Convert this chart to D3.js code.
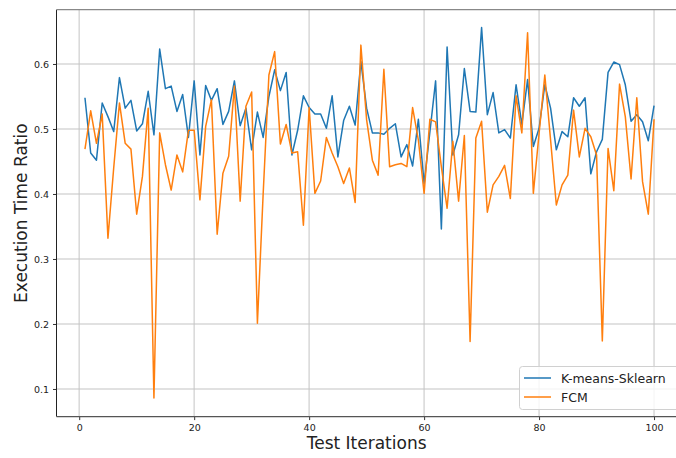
<!DOCTYPE html>
<html><head><meta charset="utf-8">
<script src="https://cdn.jsdelivr.net/npm/d3@7"></script>
<style>body{margin:0;background:#fff;}svg{display:block;font-family:"DejaVu Sans",sans-serif;}</style>
</head><body><svg id="c" width="676" height="458"></svg>
<script>
const iterations = d3.range(1, 101);
const kmeans = [0.548,0.463,0.452,0.540,0.519,0.496,0.579,0.532,0.544,0.497,
0.508,0.558,0.491,0.623,0.562,0.566,0.527,0.553,0.487,0.574,
0.460,0.567,0.544,0.562,0.507,0.527,0.574,0.505,0.532,0.468,
0.526,0.487,0.550,0.591,0.559,0.587,0.460,0.498,0.551,0.533,
0.523,0.523,0.501,0.551,0.457,0.513,0.535,0.506,0.604,0.532,
0.494,0.494,0.492,0.501,0.508,0.457,0.476,0.443,0.515,0.416,
0.495,0.574,0.346,0.626,0.460,0.491,0.593,0.527,0.526,0.656,
0.522,0.556,0.494,0.499,0.486,0.568,0.507,0.576,0.473,0.501,
0.568,0.532,0.468,0.496,0.488,0.548,0.535,0.548,0.431,0.465,
0.484,0.587,0.603,0.599,0.568,0.512,0.522,0.511,0.482,0.536];
const fcm = [0.469,0.528,0.478,0.523,0.332,0.440,0.540,0.478,0.469,0.369,
0.427,0.532,0.086,0.494,0.445,0.406,0.460,0.434,0.498,0.498,
0.391,0.504,0.545,0.338,0.432,0.458,0.566,0.389,0.535,0.557,
0.201,0.400,0.583,0.619,0.477,0.507,0.463,0.465,0.352,0.533,
0.401,0.420,0.487,0.463,0.442,0.416,0.440,0.387,0.629,0.514,
0.452,0.429,0.592,0.442,0.445,0.447,0.442,0.533,0.483,0.401,
0.515,0.511,0.442,0.378,0.481,0.389,0.490,0.173,0.486,0.512,
0.372,0.414,0.427,0.444,0.393,0.551,0.494,0.648,0.401,0.493,
0.583,0.483,0.383,0.414,0.429,0.529,0.457,0.501,0.488,0.460,
0.174,0.470,0.405,0.569,0.519,0.423,0.548,0.419,0.369,0.515];
const xTicks = [0,20,40,60,80,100];
const yTicks = [0.1,0.2,0.3,0.4,0.5,0.6];
const seriesNames = ["K-means-Sklearn","FCM"];
const colors = ["#1f77b4","#ff7f0e"];

const svg = d3.select("#c");
const L = 56.5, T = 9.7, B = 416.6;
const x = d3.scaleLinear().domain([-3.95, 104.95]).range([L, 682.5]);
const y = d3.scaleLinear().domain([0.0575, 0.6835]).range([B, T]);

// grid
svg.append("g").selectAll("line").data(xTicks).join("line")
  .attr("x1", d => x(d)).attr("x2", d => x(d)).attr("y1", T).attr("y2", B)
  .attr("stroke", "#dadada").attr("stroke-width", 1.6);
svg.append("g").selectAll("line").data(yTicks).join("line")
  .attr("x1", L).attr("x2", 676).attr("y1", d => y(d)).attr("y2", d => y(d))
  .attr("stroke", "#c4c4c4").attr("stroke-width", 1.1);

// axes
const xa = svg.append("g").attr("transform", `translate(0,${B})`)
  .call(d3.axisBottom(x).tickValues(xTicks).tickFormat(d3.format("d")).tickSize(3.5).tickPadding(4));
const ya = svg.append("g").attr("transform", `translate(${L},0)`)
  .call(d3.axisLeft(y).tickValues(yTicks).tickFormat(d3.format(".1f")).tickSize(3.5).tickPadding(4));
[xa, ya].forEach(g => {
  g.select(".domain").remove();
  g.selectAll("text").attr("font-size", 9.5).attr("fill", "#222").attr("font-family", "DejaVu Sans");
  g.selectAll("line").attr("stroke", "#333");
});
// spines
svg.append("line").attr("x1", L).attr("x2", L).attr("y1", T).attr("y2", B).attr("stroke", "#222").attr("stroke-width", 1);
svg.append("line").attr("x1", L).attr("x2", 676).attr("y1", B).attr("y2", B).attr("stroke", "#555").attr("stroke-width", 1.2);
svg.append("line").attr("x1", L).attr("x2", 676).attr("y1", T).attr("y2", T).attr("stroke", "#888").attr("stroke-width", 1.2);

// lines
const line = d3.line().x((d, i) => x(iterations[i])).y(d => y(d));
[kmeans, fcm].forEach((s, k) => {
  svg.append("path").datum(s).attr("d", line).attr("fill", "none")
    .attr("stroke", colors[k]).attr("stroke-width", 1.5).attr("stroke-linejoin", "round");
});

// labels
svg.append("text").attr("x", x(50)).attr("y", 449).attr("text-anchor", "middle")
  .attr("font-size", 17).attr("fill", "#222").text("Test Iterations");
svg.append("text").attr("transform", `translate(27,${(T + B) / 2}) rotate(-90)`).attr("text-anchor", "middle")
  .attr("font-size", 17).attr("fill", "#222").text("Execution Time Ratio");

// legend
const lg = svg.append("g");
lg.append("rect").attr("x", 519.5).attr("y", 366.5).attr("width", 170).attr("height", 43).attr("rx", 3)
  .attr("fill", "#fff").attr("fill-opacity", 0.8).attr("stroke", "#d0d0d0");
seriesNames.forEach((n, k) => {
  const yy = 378 + k * 19;
  lg.append("line").attr("x1", 524).attr("x2", 551).attr("y1", yy).attr("y2", yy).attr("stroke", colors[k]).attr("stroke-width", 1.5);
  lg.append("text").attr("x", 561).attr("y", yy + 4.5).attr("font-size", 12.5).attr("fill", "#222").text(n);
});
</script></body></html>
